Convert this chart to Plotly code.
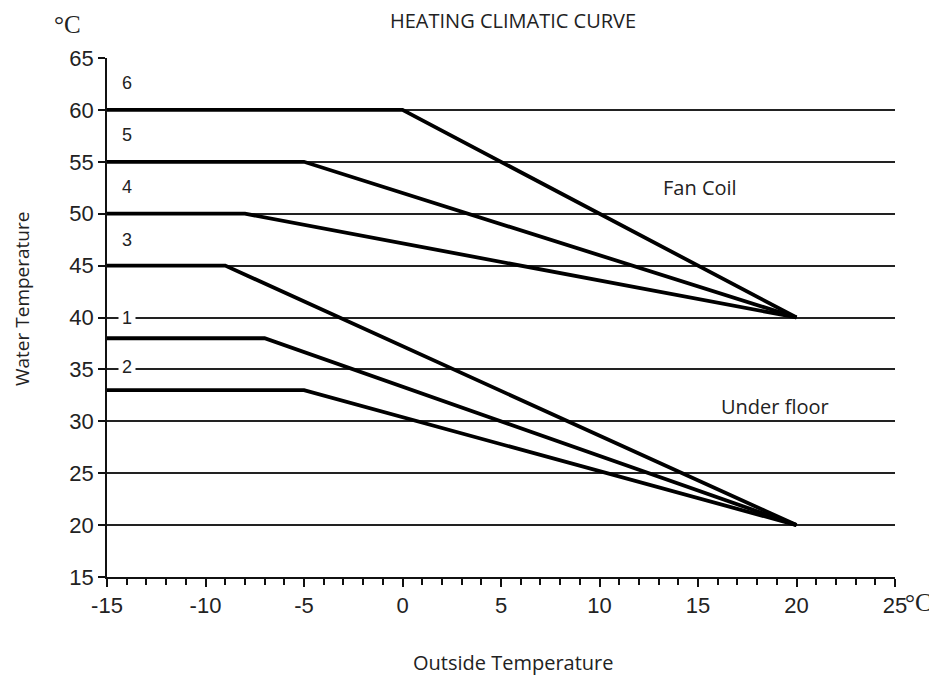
import plotly.graph_objects as go

# Data
curve_names = ["6", "5", "4", "3", "1", "2"]
start_x = [-15, -15, -15, -15, -15, -15]
knee_x = [0, -5, -8, -9, -7, -5]
flat_y = [60, 55, 50, 45, 38, 33]
end_x = [20, 20, 20, 20, 20, 20]
end_y = [40, 40, 40, 20, 20, 20]
label_x = [-14, -14, -14, -14, -14, -14]
label_y = [62.6, 57.6, 52.6, 47.5, 40, 35.2]
x_ticks = [-15, -10, -5, 0, 5, 10, 15, 20, 25]
y_ticks = [15, 20, 25, 30, 35, 40, 45, 50, 55, 60, 65]

# page is offset by the 8px body margin
OFF = 8
W, H = 937 - OFF, 676 - OFF
L, T, R, B = 107, 58, 895, 577  # plot area in page pixels
pw, ph = R - L, B - T


def px(x):
    return (x - L) / pw


def py(y):
    return 1 - (y - T) / ph


fig = go.Figure()
for i, name in enumerate(curve_names):
    fig.add_trace(go.Scatter(
        x=[start_x[i], knee_x[i], end_x[i]],
        y=[flat_y[i], flat_y[i], end_y[i]],
        mode="lines", line=dict(color="black", width=3.8),
        name=name, showlegend=False, hoverinfo="skip"))

sans = "Open Sans, Noto Sans"
C = dict(xanchor="center", yanchor="middle", showarrow=False)
ann = []
for i, name in enumerate(curve_names):
    ann.append(dict(x=label_x[i], y=label_y[i], xref="x", yref="y", text=name,
                    font=dict(family="Liberation Sans, Arial", size=18, color="#222"),
                    bgcolor="white" if name in ("1", "2") else "rgba(0,0,0,0)", borderpad=3, **C))

ann += [
    dict(x=15.1, y=52.5, xref="x", yref="y", text="Fan Coil",
         font=dict(family=sans, size=20, color="#222"), **C),
    dict(x=18.9, y=31.4, xref="x", yref="y", text="Under floor",
         font=dict(family=sans, size=20, color="#222"), **C),
    dict(x=px(513), y=py(20), xref="paper", yref="paper", text="HEATING CLIMATIC CURVE",
         font=dict(family=sans, size=20, color="#222"), **C),
    dict(x=px(513), y=py(662), xref="paper", yref="paper", text="Outside Temperature",
         font=dict(family=sans, size=20, color="#222"), **C),
    dict(x=px(22), y=py(299), xref="paper", yref="paper", text="Water Temperature",
         textangle=-90, font=dict(family=sans, size=19, color="#222"), **C),
    dict(x=px(67), y=py(24), xref="paper", yref="paper", text="°C",
         font=dict(family="Liberation Serif, DejaVu Serif", size=25, color="#222"), **C),
    dict(x=px(918), y=py(602), xref="paper", yref="paper", text="°C",
         font=dict(family="Liberation Serif, DejaVu Serif", size=25, color="#222"), **C),
]

fig.update_layout(
    width=W, height=H,
    margin=dict(l=L - OFF, r=W + OFF - R, t=T - OFF, b=H + OFF - B),
    plot_bgcolor="white", paper_bgcolor="white",
    showlegend=False,
    annotations=ann,
)

tickfont = dict(family="Liberation Sans, Arial", size=22, color="#222")
fig.update_xaxes(range=[-15, 25], tickvals=x_ticks, ticktext=[str(v) for v in x_ticks],
                 showgrid=False, zeroline=False, showline=True, linecolor="#111", linewidth=1.5,
                 ticks="outside", ticklen=8, tickwidth=1.5, tickcolor="#111",
                 minor=dict(dtick=1, ticks="outside", ticklen=6, tickwidth=1.5, tickcolor="#111", showgrid=False),
                 tickfont=tickfont)
fig.update_yaxes(range=[15, 65], tickvals=y_ticks, ticktext=[str(v) for v in y_ticks],
                 showgrid=True, gridcolor="#222", gridwidth=1.6, zeroline=False,
                 showline=True, linecolor="#111", linewidth=1.5,
                 ticks="outside", ticklen=7, tickwidth=1.5, tickcolor="#111",
                 tickfont=tickfont)

fig.write_html("out.html")
